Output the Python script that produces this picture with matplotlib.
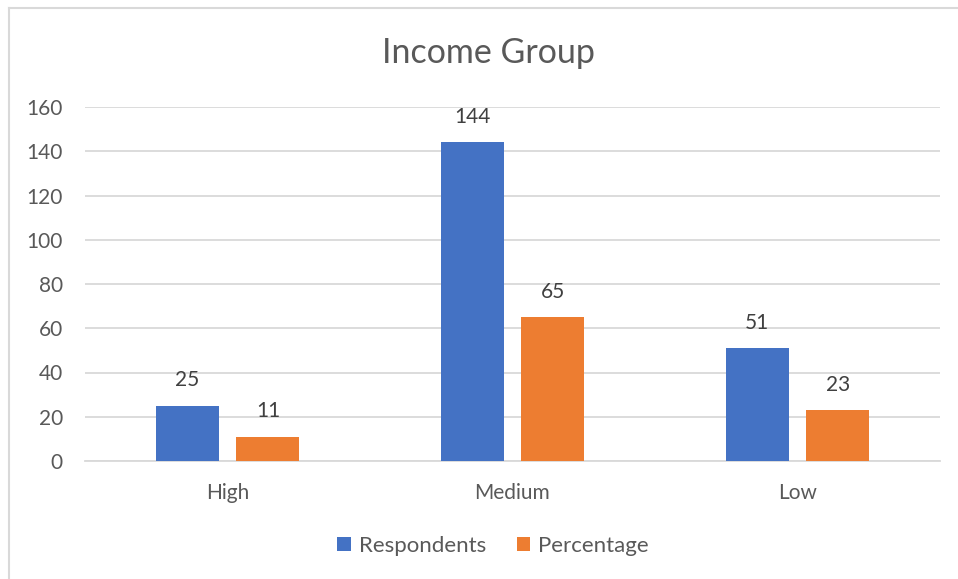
import matplotlib
matplotlib.use("Agg")
import matplotlib.pyplot as plt
import numpy as np
from matplotlib.lines import Line2D

categories = ["High", "Medium", "Low"]
respondents = [25, 144, 51]
percentage = [11, 65, 23]
series_names = ["Respondents", "Percentage"]
yticks = [0, 20, 40, 60, 80, 100, 120, 140, 160]

plt.rcParams['font.family'] = ['Lato', 'DejaVu Sans']
TXT = '#595959'
BLUE = '#4472C4'
ORANGE = '#ED7D31'
GRID = '#D9D9D9'

W, H = 958, 579
fig = plt.figure(figsize=(W/100, H/100), dpi=100)
fig.patch.set_facecolor('white')
# partial chart-area border (left and top visible in the crop)
fig.lines.append(Line2D([9/W, 9/W], [0, 1-8/H], transform=fig.transFigure,
                        color='#D9D9D9', linewidth=1.5))
fig.lines.append(Line2D([9/W, 1], [1-8/H, 1-8/H], transform=fig.transFigure,
                        color='#D9D9D9', linewidth=1.5))

ax = fig.add_axes([85/W, 1-461/H, (940-85)/W, (461-107)/H])
x = np.arange(len(categories))
bw = 0.221
off = 0.142
b1 = ax.bar(x - off, respondents, bw, color=BLUE, label=series_names[0], zorder=3)
b2 = ax.bar(x + off, percentage, bw, color=ORANGE, label=series_names[1], zorder=3)
for bars in (b1, b2):
    for r in bars:
        ax.annotate(f"{int(r.get_height())}", (r.get_x()+r.get_width()/2, r.get_height()),
                    xytext=(0, 11), textcoords='offset points', ha='center', va='bottom',
                    fontsize=15, color='#404040')

ax.set_xlim(-0.5, 2.5)
ax.set_ylim(0, 160)
ax.set_yticks(yticks)
ax.set_xticks(x)
ax.set_xticklabels(categories)
ax.tick_params(axis='both', length=0, labelsize=15, colors=TXT)
ax.tick_params(axis='y', pad=16)
ax.tick_params(axis='x', pad=16)
ax.grid(axis='y', color=GRID, linewidth=1.3, zorder=0)
for s in ['top', 'right', 'left']:
    ax.spines[s].set_visible(False)
ax.spines['bottom'].set_color(GRID)
ax.spines['bottom'].set_linewidth(1.3)

fig.text(489/W, 1-53/H, "Income Group", ha='center', va='center', fontsize=24.5, color=TXT)

fig.legend(handles=[b1, b2], labels=series_names, loc='center', bbox_to_anchor=(493/W, 1-546/H),
           ncol=2, frameon=False, fontsize=16, labelcolor=TXT, handlelength=0.6, handleheight=0.6,
           handletextpad=0.35, columnspacing=1.4)

fig.savefig("out.png", dpi=100)
